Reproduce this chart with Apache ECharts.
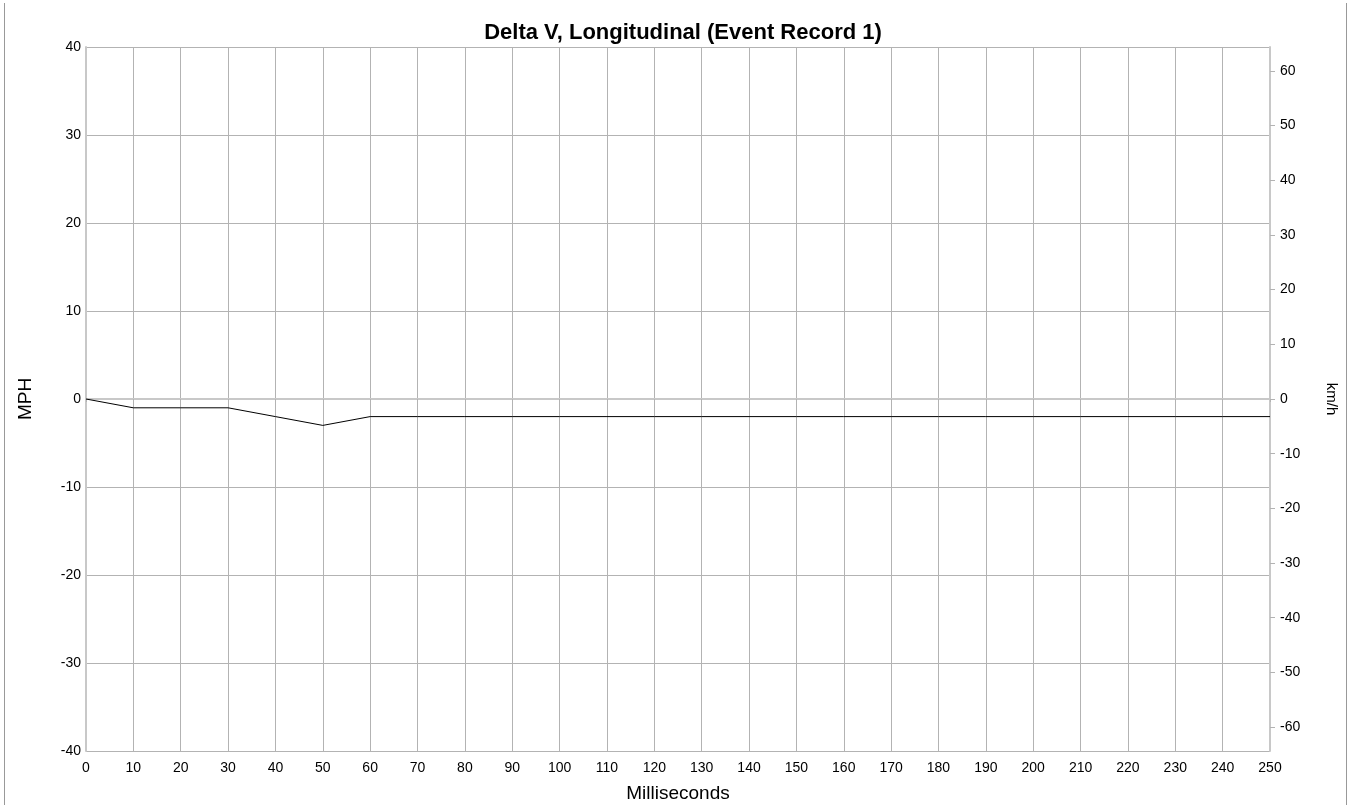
<!DOCTYPE html>
<html>
<head>
<meta charset="utf-8">
<script src="https://cdn.jsdelivr.net/npm/echarts@6/dist/echarts.min.js"></script>
<style>
  html, body { margin: 0; padding: 0; background: #fff; }
  #chart { width: 1350px; height: 805px; }
</style>
</head>
<body>
<div id="chart"></div>
<script>
// time in milliseconds
const msTimes = [0, 10, 20, 30, 40, 50, 60, 70, 80, 90, 100, 110, 120, 130, 140, 150, 160, 170, 180, 190, 200, 210, 220, 230, 240, 250]
// delta V, MPH
const deltaV = [0, -1, -1, -1, -2, -3, -2, -2, -2, -2, -2, -2, -2, -2, -2, -2, -2, -2, -2, -2, -2, -2, -2, -2, -2, -2]
// km/h tick labels on the right axis
const kmhTicks = [-60, -50, -40, -30, -20, -10, 0, 10, 20, 30, 40, 50, 60]

const MPH_TO_KMH = 1.609344
const gridColor = '#b3b3b3'
const font = 'Liberation Sans, Arial, sans-serif'

const chart = echarts.init(document.getElementById('chart'))

const option = {
    animation: false,
    backgroundColor: '#fff',
    title: {
        text: 'Delta V, Longitudinal (Event Record 1)',
        left: 678,
        top: 17,
        textAlign: 'center',
        textStyle: { fontFamily: font, fontSize: 22, fontWeight: 'bold', color: '#000' }
    },
    grid: { left: 86, right: 80, top: 47, bottom: 54, outerBoundsMode: 'none' },
    xAxis: {
        type: 'value',
        min: 0,
        max: 250,
        interval: 10,
        name: 'Milliseconds',
        nameLocation: 'middle',
        nameGap: 33,
        nameTextStyle: { fontFamily: font, fontSize: 19, color: '#000' },
        axisLine: { lineStyle: { color: '#c8c8c8', width: 2 } },
        axisTick: { show: true, length: 3, lineStyle: { color: gridColor } },
        axisLabel: { fontFamily: font, fontSize: 14, color: '#000', margin: 10 },
        splitLine: { show: true, lineStyle: { color: gridColor, width: 1 } }
    },
    yAxis: [
        {
            type: 'value',
            min: -40,
            max: 40,
            interval: 10,
            name: 'MPH',
            nameLocation: 'middle',
            nameGap: 51,
            nameTextStyle: { fontFamily: font, fontSize: 19, color: '#000' },
            axisLine: { show: true, lineStyle: { color: '#c8c8c8', width: 2 } },
            axisTick: { show: false },
            axisLabel: { fontFamily: font, fontSize: 14, color: '#000', margin: 5 },
            splitLine: { show: true, lineStyle: { color: gridColor, width: 1 } }
        },
        {
            type: 'value',
            position: 'right',
            min: -40 * MPH_TO_KMH,
            max: 40 * MPH_TO_KMH,
            name: 'km/h',
            nameLocation: 'middle',
            nameGap: 54,
            nameRotate: -90,
            nameTextStyle: { fontFamily: font, fontSize: 15, color: '#000' },
            axisLine: { show: true, lineStyle: { color: '#c8c8c8', width: 2 } },
            axisTick: { show: true, length: 5, inside: false, customValues: kmhTicks, lineStyle: { color: gridColor } },
            axisLabel: { fontFamily: font, fontSize: 14, color: '#000', margin: 10, customValues: kmhTicks },
            splitLine: { show: false }
        }
    ],
    graphic: [
        { type: 'line', shape: { x1: 4.5, y1: 3, x2: 4.5, y2: 805 }, style: { stroke: '#999', lineWidth: 1 } },
        { type: 'line', shape: { x1: 1346.5, y1: 3, x2: 1346.5, y2: 805 }, style: { stroke: '#999', lineWidth: 1 } }
    ],
    series: [
        {
            type: 'line',
            yAxisIndex: 0,
            data: msTimes.map((t, i) => [t, deltaV[i]]),
            showSymbol: false,
            lineStyle: { color: '#000', width: 1 },
            z: 5
        }
    ]
}

chart.setOption(option)
</script>
</body>
</html>
